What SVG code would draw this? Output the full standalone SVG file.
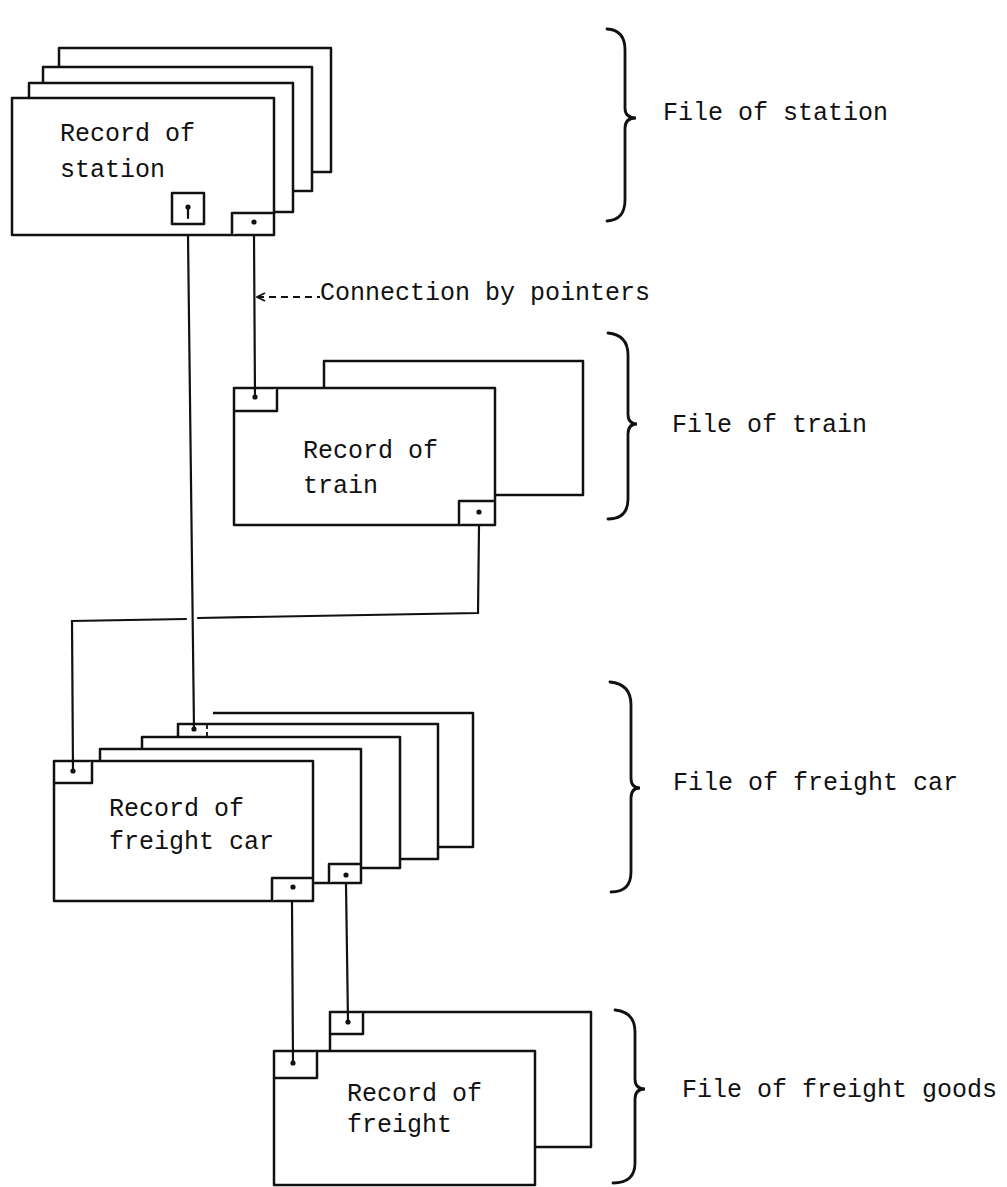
<svg xmlns="http://www.w3.org/2000/svg" width="1007" height="1187" viewBox="0 0 1007 1187">
<style>
.bx{fill:#fff;stroke:#111;stroke-width:2.5;stroke-linejoin:round}
.ln{fill:none;stroke:#111;stroke-width:2.2;stroke-linecap:round}
.br{fill:none;stroke:#111;stroke-width:2.8;stroke-linecap:round}
.dot{fill:#111}
text{font-family:"Liberation Mono","DejaVu Sans Mono",monospace;font-size:25px;fill:#111}
</style>
<defs>
<marker id="arr" viewBox="0 0 10 10" refX="1" refY="5" markerWidth="10" markerHeight="10" orient="auto" markerUnits="userSpaceOnUse">
<path d="M9,1 L1,5 L9,9" fill="none" stroke="#111" stroke-width="1.8"/>
</marker>
</defs>
<rect width="1007" height="1187" fill="#fff"/>

<g id="station-file">
<rect class="bx" x="59" y="48" width="272" height="124"/>
<rect class="bx" x="43" y="67" width="269" height="124"/>
<rect class="bx" x="29" y="83" width="264" height="129"/>
<rect class="bx" x="12" y="98" width="262" height="137"/>
<rect class="bx" x="172" y="193" width="32" height="31"/>
<circle class="dot" cx="188" cy="207" r="2.6"/>
<line class="ln" x1="188" y1="207" x2="188" y2="218"/>
<path class="bx" d="M232,235 V213 H274"/>
<circle class="dot" cx="254" cy="222" r="2.6"/>
<text x="60" y="141">Record of</text>
<text x="60" y="177">station</text>
</g>

<g id="train-file">
<rect class="bx" x="324" y="361" width="259" height="134"/>
<rect class="bx" x="234" y="388" width="261" height="137"/>
<path class="bx" d="M234,411 H277 V388"/>
<circle class="dot" cx="255" cy="397" r="2.6"/>
<path class="bx" d="M459,525 V501 H495"/>
<circle class="dot" cx="479" cy="512" r="2.6"/>
<text x="303" y="458">Record of</text>
<text x="303" y="493">train</text>
</g>

<g id="freight-car-file">
<path class="bx" d="M213,713 H473 V847 H213"/>
<rect class="bx" x="178" y="724" width="260" height="135"/>
<path fill="none" stroke="#111" stroke-width="1.8" stroke-dasharray="5,3" d="M207,724 V737"/>
<circle class="dot" cx="194" cy="729" r="2.6"/>
<rect class="bx" x="142" y="737" width="258" height="131"/>
<rect class="bx" x="100" y="749" width="261" height="134"/>
<path class="bx" d="M329,883 V864 H361"/>
<circle class="dot" cx="346" cy="875" r="2.6"/>
<rect class="bx" x="54" y="761" width="259" height="140"/>
<path class="bx" d="M54,783 H92 V761"/>
<circle class="dot" cx="73" cy="771" r="2.6"/>
<path class="bx" d="M272,901 V878 H313"/>
<circle class="dot" cx="293" cy="887" r="2.6"/>
<text x="109" y="816">Record of</text>
<text x="109" y="849">freight car</text>
</g>

<g id="freight-goods-file">
<rect class="bx" x="330" y="1012" width="261" height="135"/>
<path class="bx" d="M330,1034 H363 V1012"/>
<circle class="dot" cx="348" cy="1022" r="2.6"/>
<rect class="bx" x="274" y="1051" width="261" height="134"/>
<path class="bx" d="M274,1078 H317 V1051"/>
<circle class="dot" cx="293" cy="1063" r="2.6"/>
<text x="347" y="1101">Record of</text>
<text x="347" y="1132">freight</text>
</g>

<g id="connectors">
<line class="ln" x1="188" y1="236" x2="194" y2="728"/>
<line class="ln" x1="254" y1="236" x2="255" y2="397"/>
<polyline class="ln" points="479,526 478,613 198,618"/>
<polyline class="ln" points="186,619 72,621 73,771"/>
<line class="ln" x1="292" y1="902" x2="293" y2="1063"/>
<line class="ln" x1="346" y1="884" x2="348" y2="1022"/>
</g>

<g id="pointer-note">
<line fill="none" stroke="#111" stroke-width="1.8" stroke-dasharray="7,5" x1="257" y1="297" x2="320" y2="297" marker-start="url(#arr)"/>
<text x="320" y="300">Connection by pointers</text>
</g>

<g id="braces">
<path class="br" d="M607,29 Q625,30 625,50 V108 Q625,118 636,118 Q625,118 625,128 V200 Q625,220 607,221"/>
<path class="br" d="M608,333 Q628,335 628,355 V414 Q628,424 637,424 Q628,424 628,434 V499 Q628,519 608,519"/>
<path class="br" d="M610,682 Q631,684 631,705 V778 Q631,788 640,788 Q631,788 631,798 V872 Q631,892 611,892"/>
<path class="br" d="M615,1010 Q635,1012 635,1032 V1079 Q635,1089 645,1089 Q635,1089 635,1099 V1163 Q635,1183 613,1183"/>
</g>

<g id="labels">
<text x="663" y="120">File of station</text>
<text x="672" y="432">File of train</text>
<text x="673" y="790">File of freight car</text>
<text x="682" y="1097">File of freight goods</text>
</g>
</svg>
